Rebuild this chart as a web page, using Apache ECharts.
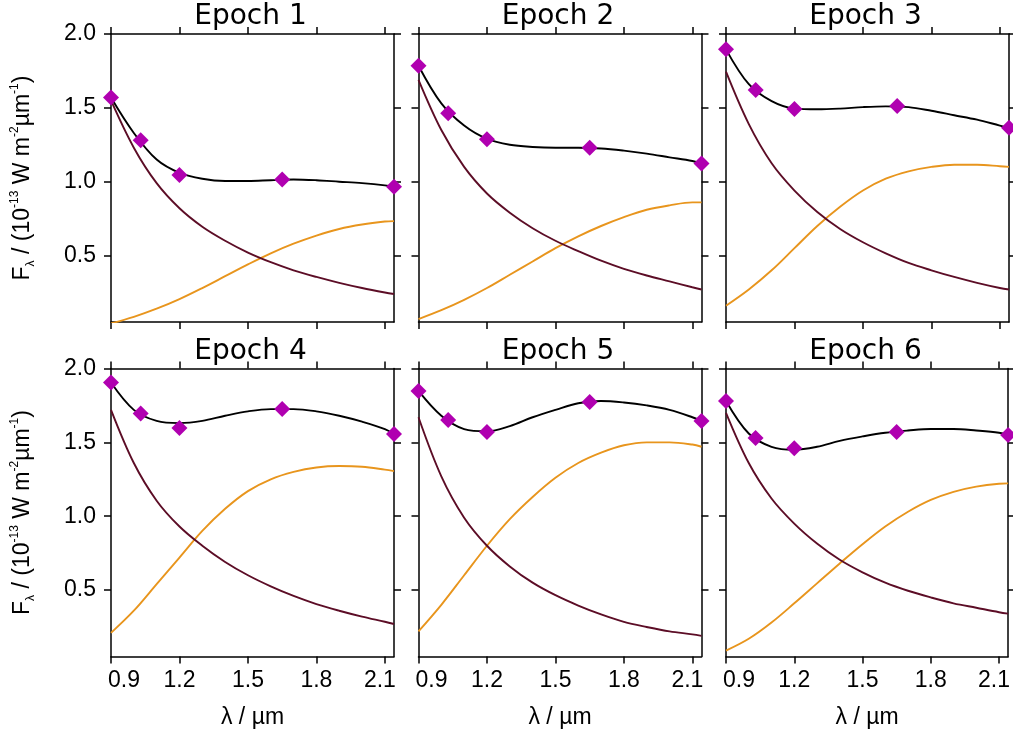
<!DOCTYPE html>
<html><head><meta charset="utf-8">
<script src="https://cdn.jsdelivr.net/npm/echarts@6/dist/echarts.min.js"></script>
<style>html,body{margin:0;padding:0;background:#fff}#c{width:1013px;height:737px}</style>
</head><body><div id="c"></div>
<script>
// ---- data ----
const epochTitles = ['Epoch 1', 'Epoch 2', 'Epoch 3', 'Epoch 4', 'Epoch 5', 'Epoch 6'];
const xTickValues = [0.9, 1.2, 1.5, 1.8, 2.1];
const yTickValues = [0.5, 1.0, 1.5, 2.0];
const pointWave = [0.9, 1.03, 1.2, 1.65, 2.14];
const curveWave = [0.9, 1.0, 1.1, 1.2, 1.3, 1.4, 1.5, 1.6, 1.7, 1.8, 1.9, 2.0, 2.1, 2.14];

const points1 = [1.57, 1.28, 1.045, 1.015, 0.965];
const points2 = [1.785, 1.463, 1.287, 1.23, 1.124];
const points3 = [1.896, 1.62, 1.492, 1.512, 1.365];
const points4 = [1.905, 1.695, 1.597, 1.726, 1.556];
const points5 = [1.848, 1.651, 1.57, 1.773, 1.644];
const points6 = [1.78, 1.53, 1.46, 1.57, 1.55];

const total1 = [1.57, 1.33, 1.15, 1.06, 1.02, 1.005, 1.005, 1.01, 1.015, 1.01, 1.0, 0.99, 0.975, 0.965];
const total2 = [1.785, 1.53, 1.38, 1.29, 1.25, 1.235, 1.23, 1.23, 1.225, 1.21, 1.19, 1.165, 1.14, 1.124];
const total3 = [1.896, 1.66, 1.545, 1.495, 1.49, 1.495, 1.505, 1.51, 1.505, 1.48, 1.45, 1.42, 1.38, 1.365];
const total4 = [1.905, 1.72, 1.645, 1.63, 1.645, 1.68, 1.71, 1.725, 1.725, 1.71, 1.68, 1.64, 1.59, 1.556];
const total5 = [1.848, 1.68, 1.59, 1.575, 1.61, 1.67, 1.72, 1.765, 1.78, 1.77, 1.75, 1.72, 1.67, 1.644];
const total6 = [1.78, 1.56, 1.47, 1.45, 1.47, 1.51, 1.54, 1.565, 1.58, 1.59, 1.59, 1.58, 1.565, 1.55];

const cool1 = [1.55, 1.23, 0.99, 0.82, 0.695, 0.60, 0.52, 0.455, 0.40, 0.355, 0.315, 0.28, 0.25, 0.24];
const cool2 = [1.69, 1.35, 1.10, 0.92, 0.79, 0.685, 0.60, 0.53, 0.465, 0.41, 0.365, 0.325, 0.285, 0.27];
const cool3 = [1.745, 1.39, 1.125, 0.94, 0.795, 0.68, 0.59, 0.515, 0.45, 0.40, 0.355, 0.315, 0.28, 0.27];
const cool4 = [1.72, 1.36, 1.105, 0.93, 0.80, 0.69, 0.60, 0.525, 0.46, 0.405, 0.36, 0.32, 0.285, 0.27];
const cool5 = [1.67, 1.27, 0.99, 0.80, 0.66, 0.55, 0.465, 0.395, 0.335, 0.285, 0.25, 0.22, 0.20, 0.19];
const cool6 = [1.70, 1.36, 1.12, 0.95, 0.815, 0.705, 0.62, 0.55, 0.495, 0.45, 0.41, 0.38, 0.35, 0.34];

const warm1 = [0.04, 0.085, 0.14, 0.205, 0.28, 0.36, 0.44, 0.515, 0.58, 0.635, 0.68, 0.71, 0.73, 0.733];
const warm2 = [0.07, 0.13, 0.20, 0.28, 0.37, 0.46, 0.55, 0.63, 0.70, 0.76, 0.81, 0.84, 0.86, 0.86];
const warm3 = [0.16, 0.27, 0.40, 0.55, 0.70, 0.83, 0.94, 1.02, 1.07, 1.10, 1.115, 1.115, 1.105, 1.10];
const warm4 = [0.21, 0.36, 0.54, 0.72, 0.90, 1.05, 1.17, 1.25, 1.30, 1.33, 1.34, 1.335, 1.315, 1.305];
const warm5 = [0.22, 0.40, 0.60, 0.80, 0.98, 1.13, 1.26, 1.36, 1.43, 1.48, 1.50, 1.50, 1.485, 1.47];
const warm6 = [0.09, 0.17, 0.28, 0.41, 0.545, 0.68, 0.81, 0.93, 1.03, 1.11, 1.165, 1.20, 1.22, 1.222];

// ---- assembly ----
const pointSets = [points1, points2, points3, points4, points5, points6];
const totalSets = [total1, total2, total3, total4, total5, total6];
const coolSets = [cool1, cool2, cool3, cool4, cool5, cool6];
const warmSets = [warm1, warm2, warm3, warm4, warm5, warm6];

const colLeft = [111, 418.5, 726];
const rowTop = [34, 368.5];
const W = 283, H = 288;
const FONT = 'Liberation Sans';
const axisLineStyle = { color: '#000', width: 1.5 };

const grids = [], xAxes = [], yAxes = [], series = [], titles = [];
const pair = (xs, ys) => xs.map((x, k) => [x, ys[k]]);

const yName = '{a|F}{s|λ}{a| / (10}{p|-13}{a| W m}{p|-2}{a|µm}{p|-1}{a|)}';
const yRich = {
  a: { fontSize: 23, fontFamily: FONT, color: '#000', lineHeight: 28 },
  s: { fontSize: 12, fontFamily: FONT, color: '#000', lineHeight: 14, verticalAlign: 'bottom' },
  p: { fontSize: 12, fontFamily: FONT, color: '#000', lineHeight: 14, verticalAlign: 'top' }
};
const tickFont = { fontSize: 23, fontFamily: FONT, color: '#000' };
const xRich = {
  l: Object.assign({ padding: [0, 0, 0, 26] }, tickFont),
  r: Object.assign({ padding: [0, 10, 0, 0] }, tickFont)
};
const xFormatter = v => {
  const s = v.toFixed(1);
  if (Math.abs(v - xTickValues[0]) < 1e-9) return '{l|' + s + '}';
  if (Math.abs(v - xTickValues[xTickValues.length - 1]) < 1e-9) return '{r|' + s + '}';
  return s;
};

for (let i = 0; i < 6; i++) {
  const col = i % 3, row = Math.floor(i / 3);
  grids.push({ left: colLeft[col], top: rowTop[row], width: W, height: H });
  const xBase = {
    gridIndex: i, type: 'value', min: 0.9, max: 2.14,
    splitLine: { show: false },
    axisLine: { show: true, onZero: false, lineStyle: axisLineStyle },
    axisTick: { show: true, inside: false, length: 7, customValues: xTickValues, lineStyle: axisLineStyle }
  };
  xAxes.push(Object.assign({}, xBase, {
    position: 'bottom',
    axisLabel: Object.assign({ show: row === 1, customValues: xTickValues, formatter: xFormatter,
      margin: 13, rich: xRich }, tickFont),
    name: row === 1 ? 'λ / µm' : '', nameLocation: 'middle', nameGap: 50,
    nameTextStyle: tickFont
  }));
  xAxes.push(Object.assign({}, xBase, { position: 'top', axisLabel: { show: false } }));
  const yBase = {
    gridIndex: i, type: 'value', min: 0.05, max: 2.0,
    splitLine: { show: false },
    axisLine: { show: true, onZero: false, lineStyle: axisLineStyle },
    axisTick: { show: true, inside: false, length: 7, customValues: yTickValues, lineStyle: axisLineStyle }
  };
  yAxes.push(Object.assign({}, yBase, {
    position: 'left',
    axisLabel: Object.assign({ show: col === 0, customValues: yTickValues, formatter: v => v.toFixed(1),
      margin: 15 }, tickFont),
    name: col === 0 ? yName : '', nameLocation: 'middle', nameGap: 74, nameRotate: 90,
    nameTextStyle: { rich: yRich }
  }));
  yAxes.push(Object.assign({}, yBase, { position: 'right', axisLabel: { show: false } }));

  const xi = 2 * i, yi = 2 * i;
  series.push({ type: 'line', xAxisIndex: xi, yAxisIndex: yi, data: pair(curveWave, warmSets[i]),
    smooth: 0.35, showSymbol: false, lineStyle: { color: '#e8951d', width: 1.9 }, z: 2 });
  series.push({ type: 'line', xAxisIndex: xi, yAxisIndex: yi, data: pair(curveWave, coolSets[i]),
    smooth: 0.35, showSymbol: false, lineStyle: { color: '#5c0d26', width: 1.9 }, z: 3 });
  series.push({ type: 'line', xAxisIndex: xi, yAxisIndex: yi, data: pair(curveWave, totalSets[i]),
    smooth: 0.35, showSymbol: false, lineStyle: { color: '#000', width: 1.9 }, z: 4 });
  series.push({ type: 'scatter', xAxisIndex: xi, yAxisIndex: yi, data: pair(pointWave, pointSets[i]),
    symbol: 'diamond', symbolSize: 16, itemStyle: { color: '#b000b0', opacity: 1 }, clip: false, z: 5 });

  titles.push({ text: epochTitles[i], left: colLeft[col] + W / 2 - 2, top: rowTop[row] - 31, textAlign: 'center', padding: 0,
    textStyle: { fontSize: 28, fontWeight: 'normal', fontFamily: 'DejaVu Sans', color: '#000' } });
}

const chart = echarts.init(document.getElementById('c'), null, { renderer: 'canvas' });
chart.setOption({
  animation: false,
  backgroundColor: '#fff',
  title: titles,
  grid: grids,
  xAxis: xAxes,
  yAxis: yAxes,
  series: series
});
</script></body></html>
